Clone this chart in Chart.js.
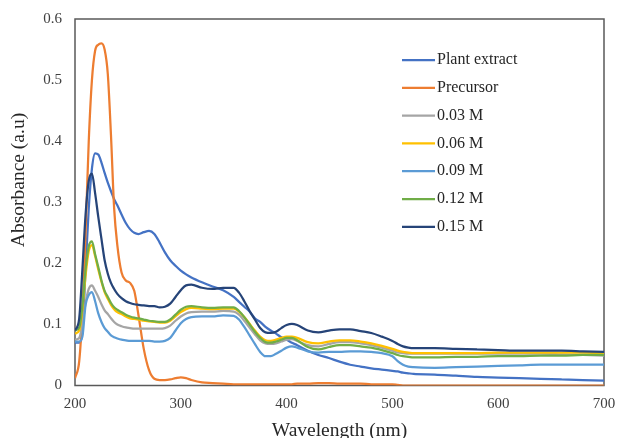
<!DOCTYPE html>
<html>
<head>
<meta charset="utf-8">
<script src="https://cdn.jsdelivr.net/npm/chart.js@4/dist/chart.umd.min.js"></script>
<style>
  html, body { margin: 0; padding: 0; background: #fff; }
  #grafico { display: block; }
</style>
</head>
<body>
<canvas id="grafico" width="618" height="438"></canvas>
<script>
// comprimentos de onda (nm)
const comprimentosOnda = [
  200, 204, 207, 210, 213, 216, 219, 222, 225, 228,
  231, 234, 237, 240, 244, 248, 252, 256, 260, 265,
  270, 275, 280, 285, 290, 295, 300, 305, 310, 320,
  330, 340, 350, 355, 360, 365, 370, 375, 380, 385,
  390, 395, 400, 405, 410, 420, 430, 440, 450, 460,
  470, 480, 490, 500, 505, 510, 515, 520, 540, 560,
  580, 600, 620, 640, 660, 680, 700
];

const extratoPlanta = [
  0.07, 0.07, 0.09, 0.19, 0.29, 0.355, 0.38, 0.378, 0.365, 0.348,
  0.332, 0.318, 0.305, 0.295, 0.28, 0.266, 0.256, 0.25, 0.248, 0.251,
  0.253, 0.248, 0.234, 0.218, 0.205, 0.196, 0.188, 0.182, 0.177, 0.169,
  0.162, 0.156, 0.145, 0.137, 0.129, 0.121, 0.11, 0.104, 0.096, 0.09,
  0.085, 0.079, 0.075, 0.07, 0.066, 0.057, 0.05, 0.045, 0.039, 0.034,
  0.031, 0.028, 0.026, 0.024, 0.023, 0.021, 0.02, 0.019, 0.018, 0.016,
  0.014, 0.013, 0.012, 0.011, 0.01, 0.009, 0.008
];

const precursor = [
  0.012, 0.04, 0.12, 0.25, 0.4, 0.5, 0.548, 0.558, 0.56, 0.55,
  0.51, 0.41, 0.29, 0.23, 0.185, 0.172, 0.168, 0.155, 0.115, 0.06,
  0.025, 0.011, 0.009, 0.009, 0.01, 0.012, 0.0135, 0.012, 0.009, 0.005,
  0.004, 0.003, 0.002, 0.002, 0.002, 0.002, 0.002, 0.002, 0.002, 0.002,
  0.002, 0.002, 0.002, 0.002, 0.003, 0.003, 0.004, 0.004, 0.003, 0.003,
  0.003, 0.002, 0.002, 0.002, 0.001, 0, 0, 0, 0, 0,
  0, 0, 0, 0, 0, 0, 0
];

const amostra003 = [
  0.075, 0.078, 0.1, 0.135, 0.158, 0.164, 0.155, 0.145, 0.133, 0.123,
  0.117, 0.11, 0.104, 0.1, 0.097, 0.095, 0.094, 0.093, 0.093, 0.093,
  0.093, 0.093, 0.093, 0.094, 0.098, 0.106, 0.113, 0.118, 0.12, 0.121,
  0.121, 0.122, 0.121, 0.116, 0.106, 0.095, 0.084, 0.074, 0.069, 0.068,
  0.069, 0.072, 0.075, 0.076, 0.073, 0.066, 0.064, 0.068, 0.071, 0.071,
  0.069, 0.066, 0.062, 0.057, 0.054, 0.053, 0.052, 0.052, 0.052, 0.052,
  0.052, 0.052, 0.052, 0.052, 0.051, 0.05, 0.049
];

const amostra006 = [
  0.085, 0.09, 0.125, 0.18, 0.22, 0.23, 0.212, 0.19, 0.17, 0.153,
  0.142, 0.132, 0.125, 0.12, 0.117, 0.113, 0.11, 0.109, 0.108, 0.106,
  0.105, 0.104, 0.103, 0.103, 0.106, 0.113, 0.12, 0.125, 0.127, 0.126,
  0.125, 0.126, 0.126, 0.121, 0.112, 0.101, 0.09, 0.08, 0.074, 0.073,
  0.075, 0.078, 0.08, 0.08, 0.078, 0.071, 0.069, 0.072, 0.074, 0.074,
  0.072, 0.069, 0.065, 0.06, 0.057, 0.055, 0.054, 0.053, 0.053, 0.053,
  0.053, 0.054, 0.054, 0.054, 0.054, 0.054, 0.053
];

const amostra009 = [
  0.072, 0.072, 0.08, 0.132, 0.148, 0.153, 0.138, 0.118, 0.104, 0.094,
  0.088, 0.082, 0.079, 0.077, 0.075, 0.074, 0.073, 0.073, 0.073, 0.073,
  0.073, 0.072, 0.072, 0.073, 0.078, 0.09, 0.102, 0.109, 0.112, 0.113,
  0.113, 0.115, 0.114, 0.108, 0.096, 0.082, 0.068, 0.055, 0.048, 0.048,
  0.052, 0.057, 0.062, 0.064, 0.062, 0.056, 0.054, 0.055, 0.055, 0.056,
  0.056, 0.055, 0.053, 0.048, 0.04, 0.034, 0.031, 0.03, 0.029, 0.03,
  0.031, 0.032, 0.033, 0.034, 0.034, 0.034, 0.034
];

const amostra012 = [
  0.09, 0.095, 0.13, 0.19, 0.228, 0.236, 0.215, 0.194, 0.172, 0.155,
  0.145, 0.135, 0.128, 0.124, 0.12, 0.116, 0.113, 0.111, 0.11, 0.108,
  0.106, 0.105, 0.104, 0.104, 0.108, 0.116, 0.124, 0.129, 0.13, 0.128,
  0.127, 0.128, 0.128, 0.122, 0.112, 0.1, 0.088, 0.078, 0.071, 0.07,
  0.072, 0.075, 0.078, 0.078, 0.074, 0.063, 0.059, 0.063, 0.066, 0.066,
  0.064, 0.062, 0.058, 0.053, 0.05, 0.048, 0.047, 0.046, 0.046, 0.047,
  0.047, 0.048, 0.048, 0.049, 0.049, 0.05, 0.05
];

const amostra015 = [
  0.09, 0.11, 0.19, 0.28, 0.335, 0.347, 0.315, 0.276, 0.24, 0.205,
  0.183, 0.168, 0.158, 0.15, 0.143, 0.138, 0.135, 0.133, 0.132, 0.131,
  0.13, 0.13, 0.128, 0.129, 0.134, 0.145, 0.156, 0.164, 0.165, 0.16,
  0.158, 0.16, 0.16, 0.152, 0.138, 0.122, 0.108, 0.094, 0.087, 0.086,
  0.088, 0.094, 0.099, 0.101, 0.099, 0.09, 0.087, 0.09, 0.092, 0.092,
  0.089, 0.086, 0.08, 0.073, 0.068, 0.064, 0.062, 0.061, 0.061, 0.06,
  0.059, 0.058, 0.057, 0.057, 0.057, 0.056, 0.055
];

const nomesSeries = ['Plant extract', 'Precursor', '0.03 M', '0.06 M', '0.09 M', '0.12 M', '0.15 M'];
const valoresSeries = [extratoPlanta, precursor, amostra003, amostra006, amostra009, amostra012, amostra015];
const coresSeries = ['#4472C4', '#ED7D31', '#A5A5A5', '#FFC000', '#5B9BD5', '#70AD47', '#264478'];

const ticksX = [200, 300, 400, 500, 600, 700];
const ticksY = [0, 0.1, 0.2, 0.3, 0.4, 0.5, 0.6];

const fonteSerif = '"Liberation Serif", "DejaVu Serif", serif';

// moldura da área do gráfico, legenda interna e títulos dos eixos
const moldura = {
  id: 'moldura',
  beforeDatasetsDraw(chart) {
    const { ctx, chartArea: a } = chart;
    ctx.save();
    ctx.strokeStyle = '#595959';
    ctx.lineWidth = 1.5;
    ctx.strokeRect(a.left, a.top, a.right - a.left, a.bottom - a.top);
    ctx.restore();
  },
  afterDraw(chart) {
    const { ctx, chartArea: a } = chart;
    ctx.save();

    ctx.font = `16px ${fonteSerif}`;
    ctx.textBaseline = 'middle';
    chart.data.datasets.forEach((ds, i) => {
      const y = a.top + 41 + i * 27.8;
      ctx.strokeStyle = ds.borderColor;
      ctx.lineWidth = 2.25;
      ctx.beginPath();
      ctx.moveTo(a.left + 327, y);
      ctx.lineTo(a.left + 360, y);
      ctx.stroke();
      ctx.fillStyle = '#262626';
      ctx.fillText(ds.label, a.left + 362, y);
    });

    ctx.font = `19.5px ${fonteSerif}`;
    ctx.fillStyle = '#262626';
    ctx.textAlign = 'center';
    ctx.textBaseline = 'alphabetic';
    ctx.fillText('Wavelength (nm)', (a.left + a.right) / 2, 436);

    ctx.translate(19, 180);
    ctx.rotate(-Math.PI / 2);
    ctx.textBaseline = 'middle';
    ctx.fillText('Absorbance (a.u)', 0, 0);
    ctx.restore();
  }
};

const graficoLinha = new Chart(document.getElementById('grafico'), {
  type: 'line',
  data: {
    datasets: nomesSeries.map((nome, i) => ({
      label: nome,
      data: comprimentosOnda.map((x, j) => ({ x, y: valoresSeries[i][j] })),
      borderColor: coresSeries[i],
      borderWidth: 2.25,
      pointRadius: 0,
      fill: false,
      cubicInterpolationMode: 'monotone',
      order: nomesSeries.length - i
    }))
  },
  options: {
    responsive: false,
    animation: false,
    layout: { padding: { top: 19, right: 14, left: 0, bottom: 0 } },
    plugins: {
      legend: { display: false },
      tooltip: { enabled: false }
    },
    scales: {
      x: {
        type: 'linear',
        min: 200,
        max: 700,
        grid: { display: false, drawTicks: false },
        border: { display: false },
        afterBuildTicks: s => { s.ticks = ticksX.map(value => ({ value })); },
        afterFit: s => { s.height = 52.5; s.paddingLeft = 0; s.paddingRight = 0; },
        ticks: { padding: 10, color: '#404040', font: { family: fonteSerif, size: 15 } }
      },
      y: {
        min: 0,
        max: 0.6,
        grid: { display: false, drawTicks: false },
        border: { display: false },
        afterBuildTicks: s => { s.ticks = ticksY.map(value => ({ value })); },
        afterFit: s => { s.width = 75; s.paddingTop = 0; s.paddingBottom = 0; },
        ticks: {
          padding: 13,
          color: '#404040',
          font: { family: fonteSerif, size: 15 },
          callback: v => String(Number(v.toFixed(1)))
        }
      }
    }
  },
  plugins: [moldura]
});
</script>
</body>
</html>
